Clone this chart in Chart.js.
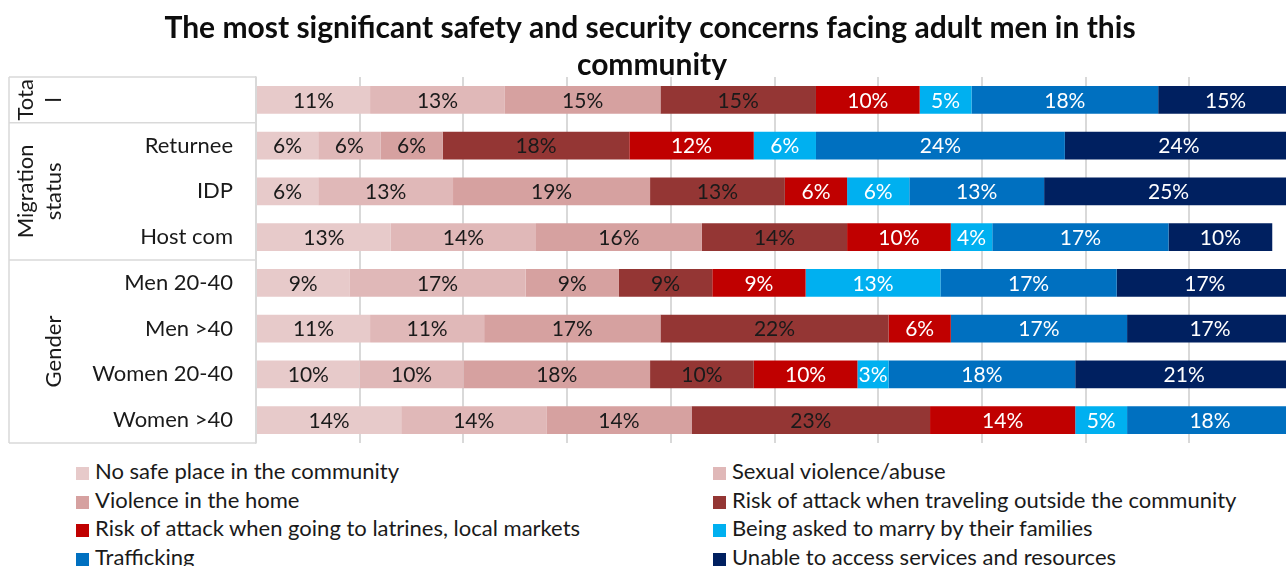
<!DOCTYPE html>
<html>
<head>
<meta charset="utf-8">
<script src="https://cdn.jsdelivr.net/npm/chart.js@4.4.1/dist/chart.umd.min.js"></script>
<style>
  body { margin: 0; overflow: hidden; background: #fff; font-family: Lato, sans-serif; }
  #wrap { position: relative; width: 1300px; height: 566px; }
  #legend { position: absolute; left: 0; top: 0; width: 1300px; }
  .item { position: absolute; font-size: 22px; color: #1a1a1a; white-space: nowrap; line-height: 26px; }
  .item .box { display: inline-block; width: 13px; height: 13px; margin-right: 6px; vertical-align: -1px; }
</style>
</head>
<body>
<div id="wrap">
  <canvas id="graph" width="1300" height="450"></canvas>
  <div id="legend"></div>
</div>
<script>
const TITLE = ['The most significant safety and security concerns facing adult men in this', 'community'];

// row labels (first row is the total, its name lives in the group column)
const categories = ['', 'Returnee', 'IDP', 'Host com', 'Men 20-40', 'Men >40', 'Women 20-40', 'Women >40'];
const groupNames = [['Tota', 'l'], ['Migration', 'status'], ['Gender']];
const groupRows = [[0, 0], [1, 3], [4, 7]];

const seriesNames = [
    'No safe place in the community',
    'Sexual violence/abuse',
    'Violence in the home',
    'Risk of attack when traveling outside the community',
    'Risk of attack when going to latrines, local markets',
    'Being asked to marry by their families',
    'Trafficking',
    'Unable to access services and resources',
];

// percent of respondents, one value per row
const noSafePlace    = [11, 6, 6, 13, 9, 11, 10, 14];
const sexualViolence = [13, 6, 13, 14, 17, 11, 10, 14];
const homeViolence   = [15, 6, 19, 16, 9, 17, 18, 14];
const travelAttack   = [15, 18, 13, 14, 9, 22, 10, 23];
const latrineAttack  = [10, 12, 6, 10, 9, 6, 10, 14];
const forcedMarriage = [5, 6, 6, 4, 13, 0, 3, 5];
const trafficking    = [18, 24, 13, 17, 17, 17, 18, 18];
const noServices     = [15, 24, 25, 10, 17, 17, 21, 0];

const seriesValues = [noSafePlace, sexualViolence, homeViolence, travelAttack,
    latrineAttack, forcedMarriage, trafficking, noServices];

const colors = ['#E7CACA', '#E0B8B8', '#D6A1A0', '#943634', '#C00000', '#00B0F0', '#0070C0', '#002060'];
const labelColors = ['#1a1a1a', '#1a1a1a', '#1a1a1a', '#1a1a1a', '#fff', '#fff', '#fff', '#fff'];
const GRID = '#D9D9D9';
const FONT = 'Lato, sans-serif';

const data = {
    labels: categories,
    datasets: seriesNames.map((name, i) => ({
        label: name,
        data: seriesValues[i],
        backgroundColor: colors[i],
        borderWidth: 0,
        barPercentage: 0.61,
        categoryPercentage: 1,
    })),
};

// percentages written in the middle of each segment
const segmentLabels = {
    id: 'segmentLabels',
    afterDatasetsDraw(chart) {
        const ctx = chart.ctx;
        const area = chart.chartArea;
        ctx.save();
        ctx.font = '21px ' + FONT;
        ctx.textAlign = 'center';
        ctx.textBaseline = 'middle';
        chart.data.datasets.forEach((ds, di) => {
            const meta = chart.getDatasetMeta(di);
            meta.data.forEach((bar, i) => {
                const v = ds.data[i];
                if (!v) return;
                const left = Math.min(bar.base, bar.x);
                const right = Math.min(Math.max(bar.base, bar.x), area.right);
                if (right <= left) return;
                ctx.fillStyle = labelColors[di];
                ctx.fillText(v + '%', (left + right) / 2, bar.y + 1);
            });
        });
        ctx.restore();
    }
};

// second level of the category axis: group names and separators
const groupAxis = {
    id: 'groupAxis',
    afterDraw(chart) {
        const ctx = chart.ctx;
        const y = chart.scales.y;
        const half = (y.getPixelForValue(1) - y.getPixelForValue(0)) / 2;
        const left = 9;
        const right = chart.chartArea.left;
        ctx.save();
        ctx.strokeStyle = GRID;
        ctx.lineWidth = 1.5;
        ctx.beginPath();
        ctx.moveTo(left, y.getPixelForValue(0) - half);
        ctx.lineTo(right, y.getPixelForValue(0) - half);
        groupRows.forEach(([a, b]) => {
            ctx.moveTo(left, y.getPixelForValue(b) + half);
            ctx.lineTo(right, y.getPixelForValue(b) + half);
        });
        ctx.moveTo(left, y.getPixelForValue(0) - half);
        ctx.lineTo(left, y.getPixelForValue(categories.length - 1) + half);
        ctx.stroke();

        ctx.fillStyle = '#1a1a1a';
        ctx.font = '22px ' + FONT;
        ctx.textAlign = 'center';
        ctx.textBaseline = 'middle';
        groupRows.forEach(([a, b], gi) => {
            const mid = (y.getPixelForValue(a) + y.getPixelForValue(b)) / 2;
            const lines = groupNames[gi];
            lines.forEach((line, li) => {
                const x = 54 - (lines.length - 1 - li) * 28;
                ctx.save();
                ctx.translate(x, mid);
                ctx.rotate(-Math.PI / 2);
                ctx.fillText(line, 0, 0);
                ctx.restore();
            });
        });

        // chart title, second line sits over the top of the plot
        ctx.font = 'bold 30px ' + FONT;
        ctx.fillStyle = '#0d0d0d';
        ctx.textBaseline = 'alphabetic';
        ctx.fillText(TITLE[0], 650, 38);
        ctx.fillText(TITLE[1], 652, 75);
        ctx.restore();
    }
};

const config = {
    type: 'bar',
    data: data,
    options: {
        indexAxis: 'y',
        responsive: false,
        animation: false,
        events: [],
        layout: { padding: { top: 77, right: 7, bottom: 7, left: 0 } },
        scales: {
            x: {
                stacked: true,
                min: 0,
                max: 100,
                ticks: { display: false, stepSize: 10 },
                grid: { color: GRID, lineWidth: 2, drawTicks: false },
                border: { display: false },
                afterFit(scale) { scale.height = 0; },
            },
            y: {
                stacked: true,
                grid: { display: false, drawTicks: false },
                border: { display: true, color: GRID, width: 1.5 },
                ticks: { color: '#1a1a1a', font: { family: FONT, size: 22 }, padding: 23 },
                afterFit(scale) {
                    scale.width = 256;
                    // tick padding is only meant to push labels left, not to shrink the plot
                    scale.paddingTop = 0;
                    scale.paddingBottom = 0;
                },
            },
        },
        plugins: {
            legend: { display: false },
            title: { display: false },
            tooltip: { enabled: false },
        },
    },
    plugins: [segmentLabels, groupAxis],
};

const chart = new Chart(document.getElementById('graph'), config);

// two-column legend under the plot
const legend = document.getElementById('legend');
seriesNames.forEach((name, i) => {
    const el = document.createElement('div');
    el.className = 'item';
    el.style.left = (i % 2 ? 713 : 76) + 'px';
    el.style.top = (471 + Math.floor(i / 2) * 28.5 - 13) + 'px';
    el.innerHTML = '<span class="box" style="background:' + colors[i] + '"></span>';
    el.appendChild(document.createTextNode(name));
    legend.appendChild(el);
});
</script>
</body>
</html>
